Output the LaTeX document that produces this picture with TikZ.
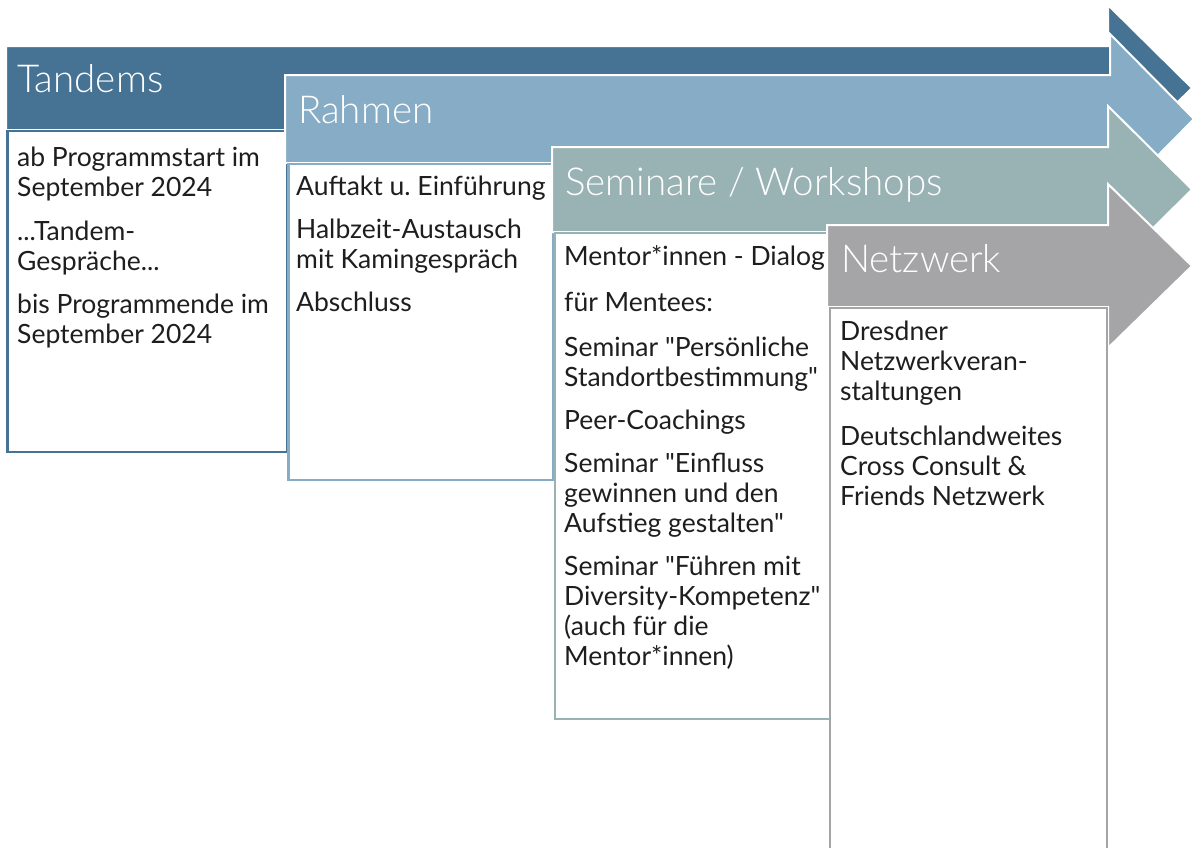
\documentclass[tikz,border=0pt]{standalone}
\usepackage{fontspec}
\setmainfont{Lato}[Ligatures=TeXOff]
\IfFontExistsTF{Lato Light}{\newfontfamily\hdrfont{Lato Light}}{\newfontfamily\hdrfont{Lato}}
\frenchspacing
\definecolor{cT}{RGB}{70,115,148}
\definecolor{cR}{RGB}{135,172,198}
\definecolor{cS}{RGB}{153,179,181}
\definecolor{cN}{RGB}{165,165,167}
\definecolor{txt}{RGB}{30,30,30}
\tikzset{
  hdr/.style={anchor=base west, inner sep=0pt, text=white, font=\hdrfont\fontsize{38.5}{42}\selectfont},
  body/.style={anchor=north west, inner sep=0pt, align=left, text=txt, font=\fontsize{26.5}{30}\selectfont},
  cbox/.style={fill=white, line width=2.5pt},
  arr/.style={draw=white, line width=2pt, line join=miter},
}
\newcommand{\stt}{\rule{0pt}{22pt}}
\begin{document}
\begin{tikzpicture}[x=1pt,y=-1pt]
\useasboundingbox (0,0) rectangle (1192,847);
\clip (0,0) rectangle (1192,847);
% Tandems
\draw[arr, fill=cT] (6,46) -- (1108,46) -- (1108,5) -- (1192,88) -- (1108,171) -- (1108,130) -- (6,130) -- cycle;
\draw[cbox, draw=cT] (7.5,131) rectangle (287,452);
\node[hdr] (hT) at (17,92) {Tandems};
\node[body] (t1) at (17,144) {\stt ab Programmstart im\\September 2024};
\node[body] (t2) at (17,218) {\stt ...Tandem-\\Gespräche...};
\node[body] (t3) at (17,291) {\stt bis Programmende im\\September 2024};
% Rahmen
\draw[arr, fill=cR] (285,75) -- (1110,75) -- (1110,34) -- (1194,119) -- (1110,204) -- (1110,163) -- (285,163) -- cycle;
\draw[cbox, draw=cR] (288.5,164) rectangle (553,480);
\node[hdr] (hR) at (298,123) {Rahmen};
\node[body] (r1) at (296,173) {\stt Auftakt u. Einführung};
\node[body] (r2) at (296,216) {\stt Halbzeit-Austausch\\mit Kamingespräch};
\node[body] (r3) at (296,289) {\stt Abschluss};
% Seminare
\draw[arr, fill=cS] (552,147) -- (1108,147) -- (1108,106) -- (1192,189.5) -- (1108,273) -- (1108,232) -- (552,232) -- cycle;
\draw[cbox, draw=cS] (555,233) rectangle (830,719);
\node[hdr] (hS) at (565,195) {Seminare / Workshops};
\node[body] (s1) at (564,243) {\stt Mentor*innen - Dialog};
\node[body] (s2) at (564,289) {\stt für Mentees:};
\node[body] (s3) at (564,334) {\stt Seminar "Persönliche\\Standortbestimmung"};
\node[body] (s4) at (564,407) {\stt Peer-Coachings};
\node[body] (s5) at (564,450) {\stt Seminar "Einfluss\\gewinnen und den\\Aufstieg gestalten"};
\node[body] (s6) at (564,553) {\stt Seminar "Führen mit\\Diversity-Kompetenz"\\(auch für die\\Mentor*innen)};
% Netzwerk
\draw[arr, fill=cN] (827,225) -- (1108,225) -- (1108,184) -- (1192,266) -- (1108,348) -- (1108,307) -- (827,307) -- cycle;
\draw[cbox, draw=cN] (830,308) rectangle (1107,870);
\node[hdr] (hN) at (841,272) {Netzwerk};
\node[body] (n1) at (840,318) {\stt Dresdner\\Netzwerkveran-\\staltungen};
\node[body] (n2) at (840,423) {\stt Deutschlandweites\\Cross Consult \&\\Friends Netzwerk};
\end{tikzpicture}
\end{document}
